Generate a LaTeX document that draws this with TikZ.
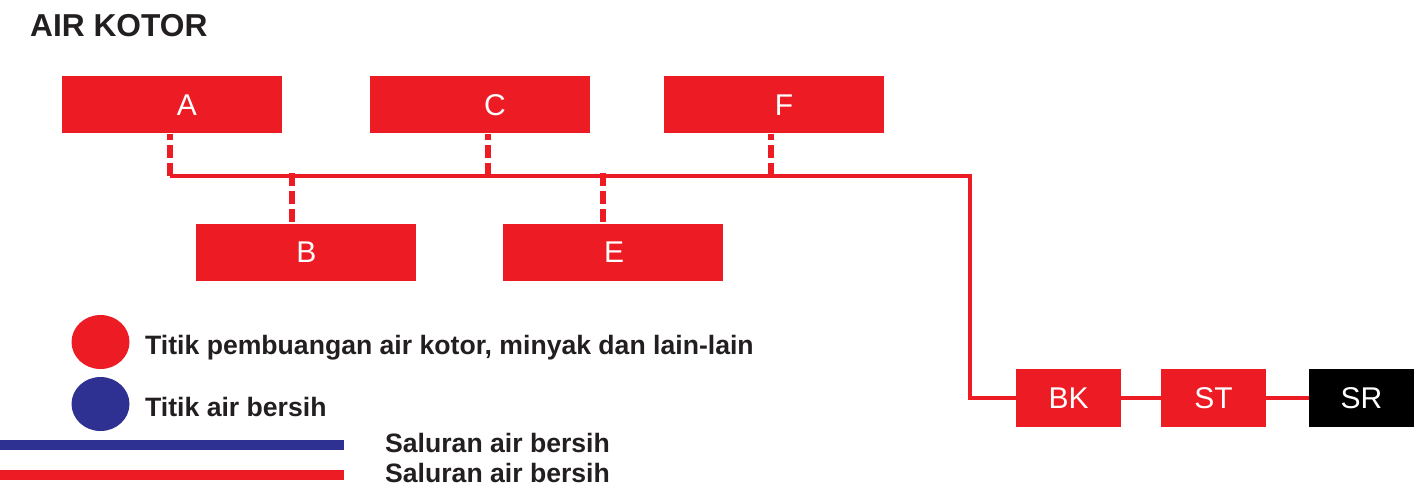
\documentclass[tikz,border=0pt]{standalone}
\usepackage{fontspec}
\setmainfont{Liberation Sans}
\usetikzlibrary{shapes.geometric}
\definecolor{kred}{HTML}{ED1C24}
\definecolor{kblue}{HTML}{2E3192}
\definecolor{kdark}{HTML}{231F20}
\begin{document}
\begin{tikzpicture}[x=1pt,y=-1pt,
  box/.style={rectangle,fill=kred,text=white,minimum width=220pt,minimum height=57pt,inner sep=0pt,font=\fontsize{30}{30}\selectfont},
  smallbox/.style={box,minimum width=105pt,minimum height=58pt},
  pipe/.style={draw=kred,line width=4.5pt},
  drop/.style={draw=kred,line width=6pt,dash pattern=on 13pt off 5pt},
  legtext/.style={anchor=base west,inner sep=0pt,text=kdark,font=\fontsize{26.6}{27}\selectfont\bfseries},
  dot/.style={ellipse,minimum width=58pt,minimum height=54pt,inner sep=0pt}]
\useasboundingbox (0,0) rectangle (1417,484);
% title
\node[legtext,font=\fontsize{31.7}{32}\selectfont\bfseries] (title) at (30,37) {AIR KOTOR};
% boxes
\node[box] (A) at (172,105) {\hspace*{30pt}A};
\node[box] (C) at (480,105) {\hspace*{30pt}C};
\node[box] (F) at (774,105) {\hspace*{20pt}F};
\node[box] (B) at (305.5,252.5) {\hspace*{2pt}B};
\node[box] (E) at (613,252.5) {\hspace*{2pt}E};
\node[smallbox] (BK) at (1068.5,398) {BK};
\node[smallbox] (ST) at (1213.5,398) {ST};
\node[smallbox,fill=black] (SR) at (1361.5,398) {SR};
% junctions on the trunk
\coordinate (jA) at (170,176);
\coordinate (jB) at (292,176);
\coordinate (jC) at (488,176);
\coordinate (jE) at (603,176);
\coordinate (jF) at (771,176);
\coordinate (corner) at (970,176);
% trunk
\draw[pipe] (jA) -- (corner) -- (corner |- BK.west) -- (BK.west);
\draw[pipe] (BK.east) -- (ST.west);
\draw[pipe] (ST.east) -- (SR.west);
% drops
\draw[drop] (jA) -- (jA |- A.south);
\draw[drop] (jC) -- (jC |- C.south);
\draw[drop] (jF) -- (jF |- F.south);
\draw[drop] ([yshift=3pt]jB) -- (jB |- B.north);
\draw[drop] ([yshift=3pt]jE) -- (jE |- E.north);
% legend
\node[dot,fill=kred] (dred) at (100.5,342) {};
\node[dot,fill=kblue] (dblue) at (100.5,404) {};
\node[legtext] (t1) at (145,354) {Titik pembuangan air kotor, minyak dan lain-lain};
\node[legtext] (t2) at (145,416) {Titik air bersih};
\draw[kblue,line width=10pt] (0,444.5) -- (344,444.5);
\draw[kred,line width=10pt] (0,474.5) -- (344,474.5);
\node[legtext] (t3) at (385,452.5) {Saluran air bersih};
\node[legtext] (t4) at (385,482) {Saluran air bersih};
\end{tikzpicture}
\end{document}
